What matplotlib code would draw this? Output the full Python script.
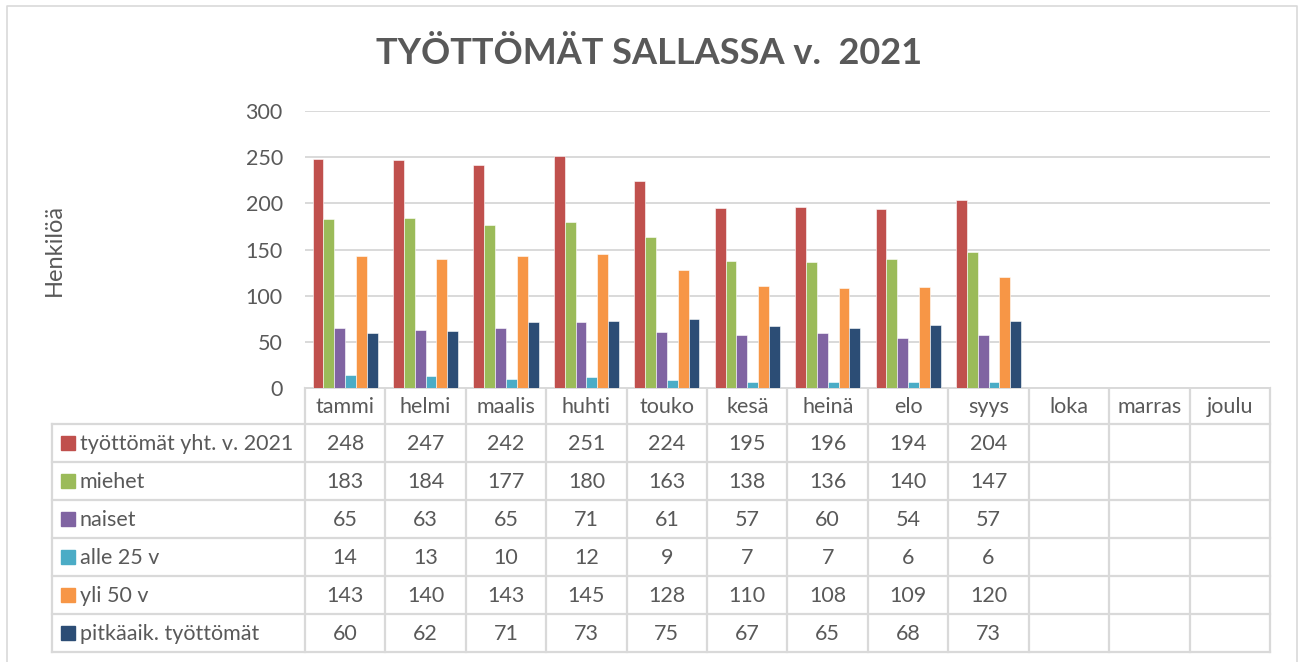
import matplotlib.pyplot as plt
import numpy as np

plt.rcParams['font.family'] = ['Lato', 'DejaVu Sans']

months = ['tammi', 'helmi', 'maalis', 'huhti', 'touko', 'kesä', 'heinä',
          'elo', 'syys', 'loka', 'marras', 'joulu']
series_names = ['työttömät yht. v. 2021', 'miehet', 'naiset', 'alle 25 v',
                'yli 50 v', 'pitkäaik. työttömät']
tyottomat = [248, 247, 242, 251, 224, 195, 196, 194, 204]
miehet = [183, 184, 177, 180, 163, 138, 136, 140, 147]
naiset = [65, 63, 65, 71, 61, 57, 60, 54, 57]
alle25 = [14, 13, 10, 12, 9, 7, 7, 6, 6]
yli50 = [143, 140, 143, 145, 128, 110, 108, 109, 120]
pitkaaik = [60, 62, 71, 73, 75, 67, 65, 68, 73]
series = [tyottomat, miehet, naiset, alle25, yli50, pitkaaik]
colors = ['#C0504D', '#9BBB59', '#8064A2', '#4BACC6', '#F79646', '#2C4D75']

txt = '#595959'
grid = '#D9D9D9'
fs = 15.5
W, H = 1299, 662
fig = plt.figure(figsize=(W / 100, H / 100), dpi=100)

# layout in pixels
px_left, px_right, px_top, px_zero = 305, 1270, 111, 388
lab_left = 52
row_h = 38
head_h = 36

ax = fig.add_axes([px_left / W, 1 - px_zero / H, (px_right - px_left) / W,
                   (px_zero - px_top) / H])
n = len(months)
bw = 0.135
for k, (vals, c) in enumerate(zip(series, colors)):
    xs = np.arange(len(vals)) + (k - 2.5) * bw
    ax.bar(xs, vals, bw, color=c, edgecolor='white', linewidth=0.4, zorder=3)
ax.set_xlim(-0.5, n - 0.5)
ax.set_ylim(0, 300)
ax.set_yticks(range(0, 301, 50))
ax.yaxis.grid(True, color=grid, linewidth=1.4, zorder=0)
ax.tick_params(axis='y', length=0, pad=16, labelsize=fs, labelcolor=txt)
ax.set_xticks([])
for s in ['top', 'right', 'left']:
    ax.spines[s].set_visible(False)
ax.spines['bottom'].set_color(grid)
ax.spines['bottom'].set_linewidth(1.4)
ax.set_ylabel('Henkilöä', fontsize=17, color=txt)
ax.yaxis.set_label_coords((65 - px_left) / (px_right - px_left), 0.5)

# overlay axes in pixel coords for table and frame
ov = fig.add_axes([0, 0, 1, 1], zorder=-1)
ov.set_xlim(0, W)
ov.set_ylim(H, 0)
ov.axis('off')
ov.patch.set_alpha(0)

fig.text(0.5, 1 - 53 / H, 'TYÖTTÖMÄT SALLASSA v.  2021', ha='center', va='center',
         fontsize=26, fontweight='bold', color=txt)

# chart frame
ov.plot([7, 7, 1297, 1297], [H, 6, 6, H], color=grid, lw=1.2)

cw = (px_right - px_left) / n
tab_bottom = px_zero + head_h + row_h * len(series)
lc = '#D9D9D9'
lw = 1.6
for i in range(n + 1):
    xx = px_left + i * cw
    ov.plot([xx, xx], [px_zero, tab_bottom], color=lc, lw=lw)
ov.plot([lab_left, lab_left], [px_zero + head_h, tab_bottom], color=lc, lw=lw)
for r in range(len(series) + 1):
    yy = px_zero + head_h + r * row_h
    ov.plot([lab_left, px_right], [yy, yy], color=lc, lw=lw)

for i, m in enumerate(months):
    ov.text(px_left + (i + 0.5) * cw, px_zero + head_h / 2 + 1, m, ha='center',
            va='center', fontsize=fs, color=txt)

for r, (name, vals, c) in enumerate(zip(series_names, series, colors)):
    yc = px_zero + head_h + (r + 0.5) * row_h
    ov.add_patch(plt.Rectangle((61, yc - 7), 14, 14, color=c))
    ov.text(80, yc + 1, name, ha='left', va='center', fontsize=fs, color=txt)
    for i, v in enumerate(vals):
        ov.text(px_left + (i + 0.5) * cw, yc + 1, str(v), ha='center', va='center',
                fontsize=fs, color=txt)

fig.savefig('out.png', dpi=100)
